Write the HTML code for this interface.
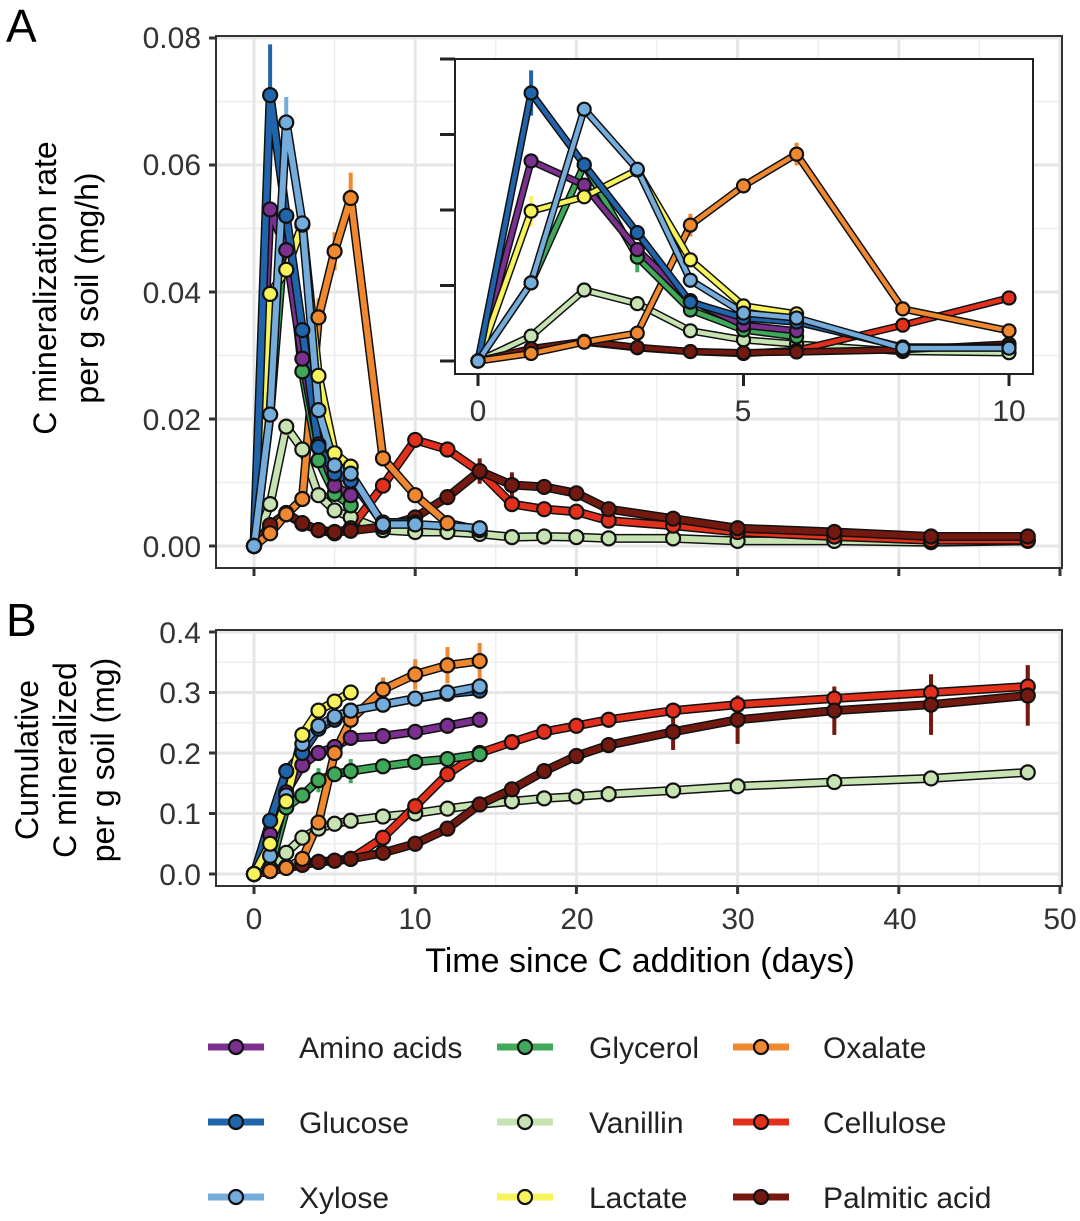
<!DOCTYPE html>
<html><head><meta charset="utf-8"><style>
body{margin:0;background:#fff;}
svg{display:block;font-family:"Liberation Sans",sans-serif;}
</style></head><body>
<svg id="s" width="1080" height="1221" viewBox="0 0 1080 1221" xmlns="http://www.w3.org/2000/svg">
<rect width="1080" height="1221" fill="#fff"/>
<g id="grid"></g>
<g id="series"></g>
<g fill="#333" font-size="30" text-anchor="end">
<text x="201" y="48">0.08</text><text x="201" y="175">0.06</text><text x="201" y="303">0.04</text><text x="201" y="430">0.02</text><text x="201" y="557">0.00</text>
<text x="201" y="643">0.4</text><text x="201" y="703">0.3</text><text x="201" y="764">0.2</text><text x="201" y="824">0.1</text><text x="201" y="885">0.0</text>
</g>
<g fill="#333" font-size="30" text-anchor="middle">
<text x="254" y="929">0</text><text x="415" y="929">10</text><text x="577" y="929">20</text><text x="738" y="929">30</text><text x="900" y="929">40</text><text x="1060" y="929">50</text>
<text x="478" y="421">0</text><text x="743" y="421">5</text><text x="1009" y="421">10</text>
</g>
<text x="640" y="972" font-size="34" text-anchor="middle" fill="#000">Time since C addition (days)</text>
<text x="56" y="288" font-size="32" text-anchor="middle" transform="rotate(-90 56 288)">C mineralization rate</text>
<text x="98" y="288" font-size="32" text-anchor="middle" transform="rotate(-90 98 288)">per g soil (mg/h)</text>
<text x="38" y="760" font-size="32" text-anchor="middle" transform="rotate(-90 38 760)">Cumulative</text>
<text x="76" y="760" font-size="32" text-anchor="middle" transform="rotate(-90 76 760)">C mineralized</text>
<text x="114" y="760" font-size="32" text-anchor="middle" transform="rotate(-90 114 760)">per g soil (mg)</text>
<text x="6" y="42" font-size="46">A</text>
<text x="6" y="636" font-size="46">B</text>
<g font-size="30" fill="#222">
<text x="299" y="1058">Amino acids</text><text x="589" y="1058">Glycerol</text><text x="823" y="1058">Oxalate</text>
<text x="299" y="1133">Glucose</text><text x="589" y="1133">Vanillin</text><text x="823" y="1133">Cellulose</text>
<text x="299" y="1208">Xylose</text><text x="589" y="1208">Lactate</text><text x="823" y="1208">Palmitic acid</text>
</g>
<g id="legend"></g>
</svg>
<script>
const NS="http://www.w3.org/2000/svg";
function el(p,t,a){const e=document.createElementNS(NS,t);for(const k in a)e.setAttribute(k,a[k]);p.appendChild(e);return e;}
const G=document.getElementById('grid'),S=document.getElementById('series'),L=document.getElementById('legend');
const X=d=>254+d*16.12;
const YA=v=>546-v/0.08*508;
const YB=v=>874-v*605;
const XI=d=>478+d*53.1;
const YI=v=>361-v/0.02*75.5;
[[216,1062,36,568,YA,[0,0.02,0.04,0.06,0.08],[0.01,0.03,0.05,0.07]],[216,1062,630,886,YB,[0,0.1,0.2,0.3,0.4],[0.05,0.15,0.25,0.35]]].forEach(p=>{
 const [x0,x1,y0,y1,Y,maj,min]=p;
 min.forEach(v=>el(G,'line',{x1:x0,x2:x1,y1:Y(v),y2:Y(v),stroke:'#ededed','stroke-width':1.5}));
 [5,15,25,35,45].forEach(d=>el(G,'line',{x1:X(d),x2:X(d),y1:y0,y2:y1,stroke:'#ededed','stroke-width':1.5}));
 maj.forEach(v=>el(G,'line',{x1:x0,x2:x1,y1:Y(v),y2:Y(v),stroke:'#e6e6e6','stroke-width':3}));
 [0,10,20,30,40,50].forEach(d=>el(G,'line',{x1:X(d),x2:X(d),y1:y0,y2:y1,stroke:'#e6e6e6','stroke-width':3}));
 el(G,'rect',{x:x0,y:y0,width:x1-x0,height:y1-y0,fill:'none',stroke:'#333','stroke-width':2});
 maj.forEach(v=>el(G,'line',{x1:x0-7,x2:x0,y1:Y(v),y2:Y(v),stroke:'#333','stroke-width':3}));
 [0,10,20,30,40,50].forEach(d=>el(G,'line',{x1:X(d),x2:X(d),y1:y1,y2:y1+8,stroke:'#333','stroke-width':3}));
});
const C={am:'#7b2f8e',gl:'#2064ab',xy:'#74acdc',gy:'#3fa95a',va:'#c8e3b2',la:'#f7f35a',ox:'#f0882f',ce:'#e2301c',pa:'#74190f'};
const tS=[0,1,2,3,4,5,6,8,10,12,14];
const tL=[0,1,2,3,4,5,6,8,10,12,14,16,18,20,22,26,30,36,42,48];
const A={
va:[tL,[0,.0066,.0188,.0152,.008,.0056,.0045,.0025,.0022,.0022,.0019,.0014,.0015,.0014,.0012,.0012,.0008,.0008,.0006,.0008]],
ce:[tL,[0,.003,.005,.0035,.0025,.002,.0028,.0095,.0167,.0152,.0117,.0066,.0058,.0054,.004,.0032,.0022,.0015,.0009,.0009]],
pa:[tL,[0,.0033,.0052,.0036,.0025,.0022,.0024,.003,.0045,.0077,.0118,.0096,.0093,.0083,.0058,.0043,.0028,.0022,.0015,.0015]],
ox:[tS,[0,.002,.005,.0074,.036,.0464,.0548,.0138,.008,.0036,.0025]],
gy:[[0,1,2,3,4,5,6],[0,.0207,.052,.0275,.0135,.0082,.0064]],
am:[[0,1,2,3,4,5,6],[0,.053,.0466,.0295,.016,.0095,.008]],
la:[[0,1,2,3,4,5,6],[0,.0397,.0435,.0506,.0268,.0146,.0125]],
gl:[[0,1,2,3,4,5,6,8,10],[0,.071,.052,.034,.0156,.0114,.0103,.0037,.0037]],
xy:[[0,1,2,3,4,5,6,8,10,14],[0,.0207,.0667,.0508,.0214,.0127,.0114,.0034,.0034,.0028]]
};
const B={
va:[tL,[0,.005,.035,.06,.075,.083,.088,.095,.1,.108,.115,.12,.125,.128,.132,.138,.145,.152,.158,.168]],
ce:[tL,[0,.005,.012,.018,.02,.022,.025,.06,.112,.165,.2,.218,.235,.245,.255,.27,.28,.29,.3,.31]],
pa:[tL,[0,.005,.01,.015,.02,.022,.025,.035,.05,.075,.115,.14,.17,.195,.213,.235,.255,.27,.28,.295]],
gy:[tS,[0,.01,.11,.13,.155,.165,.17,.178,.185,.19,.198]],
am:[tS,[0,.065,.135,.18,.2,.21,.225,.228,.235,.245,.255]],
gl:[tS,[0,.088,.17,.2,.24,.255,.27,.28,.29,.298,.303]],
ox:[tS,[0,.005,.01,.025,.085,.2,.255,.305,.33,.345,.352]],
xy:[tS,[0,.03,.13,.215,.245,.26,.27,.28,.29,.3,.31]],
la:[[0,1,2,3,4,5,6],[0,.05,.12,.23,.27,.285,.3]]
};
function draw(par,d,fx,fy,w,r,clip){
 for(const k in d){const [t,v]=d[k];let pts=[];t.forEach((tt,i)=>{if(!clip||tt<=clip)pts.push([fx(tt),fy(v[i])]);});
  const s=pts.map(p=>p.join(',')).join(' ');
  el(par,'polyline',{points:s,fill:'none',stroke:'#111','stroke-width':w+3,'stroke-linejoin':'round'});
  el(par,'polyline',{points:s,fill:'none',stroke:C[k],'stroke-width':w,'stroke-linejoin':'round'});
 }
 for(const k in d){const [t,v]=d[k];t.forEach((tt,i)=>{if(!clip||tt<=clip)el(par,'circle',{cx:fx(tt),cy:fy(v[i]),r:r,fill:C[k],stroke:'#111','stroke-width':2.2});});}
}
[['gl',1,.071,.008],['xy',2,.0667,.004],['ox',6,.0548,.004],['ox',5,.0464,.003],['pa',14,.0118,.002],['pa',16,.0096,.002],['ox',4,.036,.003]].forEach(e=>el(S,'line',{x1:X(e[1]),x2:X(e[1]),y1:YA(e[2]+e[3]),y2:YA(e[2]-e[3]),stroke:C[e[0]],'stroke-width':4}));
draw(S,A,X,YA,6,7);
[['ox',8,.305,.02],['ox',10,.33,.025],['ox',12,.345,.03],['ox',14,.352,.03],['ce',42,.3,.03],['ce',48,.31,.035],['pa',36,.27,.04],['pa',42,.28,.05],['pa',48,.295,.05],['pa',30,.255,.04],['pa',26,.235,.03],['gy',4,.155,.02],['gy',6,.17,.02]].forEach(e=>el(S,'line',{x1:X(e[1]),x2:X(e[1]),y1:YB(e[2]+e[3]),y2:YB(e[2]-e[3]),stroke:C[e[0]],'stroke-width':4}));
draw(S,B,X,YB,6,7);
el(S,'rect',{x:455,y:59,width:578,height:315,fill:'#fff',stroke:'#222','stroke-width':2});
[0,.02,.04,.06,.08].forEach(v=>el(S,'line',{x1:440,x2:455,y1:YI(v),y2:YI(v),stroke:'#222','stroke-width':3}));
[0,5,10].forEach(d=>el(S,'line',{x1:XI(d),x2:XI(d),y1:374,y2:386,stroke:'#222','stroke-width':3}));
const ins=el(S,'g',{});
[['gl',1,.071,.006],['ox',6,.0548,.003],['ox',4,.036,.003],['gy',3,.0275,.004],['la',1,.0397,.004]].forEach(e=>el(ins,'line',{x1:XI(e[1]),x2:XI(e[1]),y1:YI(e[2]+e[3]),y2:YI(e[2]-e[3]),stroke:C[e[0]],'stroke-width':4}));
draw(ins,A,XI,YI,4.5,6.5,10);
const lg=[['am',1047,208],['gl',1122,208],['xy',1197,208],['gy',1047,497],['va',1122,497],['la',1197,497],['ox',1047,733],['ce',1122,733],['pa',1197,733]];
lg.forEach(([k,y,x])=>{el(L,'line',{x1:x,x2:x+56,y1:y,y2:y,stroke:C[k],'stroke-width':7});el(L,'circle',{cx:x+28,cy:y,r:7,fill:C[k],stroke:'#111','stroke-width':2.2});});
</script>
</body></html>
